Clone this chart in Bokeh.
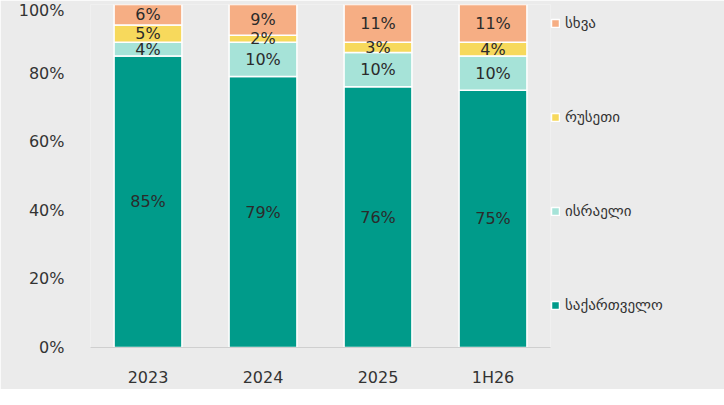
from bokeh.plotting import figure
from bokeh.models import ColumnDataSource, Legend, LegendItem, NumeralTickFormatter
from bokeh.embed import file_html
from bokeh.resources import INLINE
from bokeh.core.properties import value

years = ["2023", "2024", "2025", "1H26"]
georgia = [85, 79, 76, 75]
israel = [4, 10, 10, 10]
russia = [5, 2, 3, 4]
other = [6, 9, 11, 11]
names = ["საქართველო", "ისრაელი", "რუსეთი", "სხვა"]
colors = ["#009B8A", "#A6E3D8", "#F7D95C", "#F6AE84"]
font = "DejaVu Sans"

series = [georgia, israel, russia, other]
data = {"x": years}
for i, s in enumerate(series):
    data[f"s{i}"] = [v / 100 for v in s]
src = ColumnDataSource(data)

p = figure(x_range=years, y_range=(0, 1), frame_width=460, frame_height=343, output_backend="svg",
           toolbar_location=None, min_border_left=90, min_border_top=4, min_border_bottom=42,
           min_border_right=10, background_fill_color="#EBEBEB", border_fill_color="#EBEBEB")
p.outline_line_color = None
p.grid.visible = False

keys = [f"s{i}" for i in range(4)]
rs = p.vbar_stack(keys, x="x", width=0.59, source=src, color=colors,
                  line_color="white", line_width=1.5)

for i, s in enumerate(series):
    base = [sum(series[j][k] for j in range(i)) for k in range(4)]
    ys = [(b + v / 2) / 100 for b, v in zip(base, s)]
    lsrc = ColumnDataSource(dict(x=years, y=ys, t=[f"{v}%" for v in s]))
    p.text(x="x", y="y", text="t", source=lsrc, text_align="center", text_baseline="middle",
           text_font=value(font), text_font_size="16px", text_color="#2b2b2b")

items = [LegendItem(label=names[i], renderers=[rs[i]]) for i in [3, 2, 1, 0]]
leg = Legend(items=items, location=(0, 32), spacing=74, label_text_font=font,
             label_text_font_size="15px", label_text_color="#333333",
             glyph_width=10, glyph_height=10, background_fill_alpha=0,
             border_line_color=None, label_height=20)
p.add_layout(leg, "right")

p.yaxis.formatter = NumeralTickFormatter(format="0%")
p.yaxis.ticker = [0, 0.2, 0.4, 0.6, 0.8, 1.0]
p.yaxis.axis_line_color = None
p.yaxis.major_tick_line_color = None
p.yaxis.minor_tick_line_color = None
p.xaxis.major_tick_line_color = None
p.xaxis.axis_line_color = "#CFCFCF"
for ax in (p.xaxis, p.yaxis):
    ax.major_label_text_font = font
    ax.major_label_text_font_size = "16px"
    ax.major_label_text_color = "#333333"
p.xaxis.major_label_standoff = 14
p.yaxis.major_label_standoff = 20

open("out.html", "w").write(file_html(p, INLINE))
